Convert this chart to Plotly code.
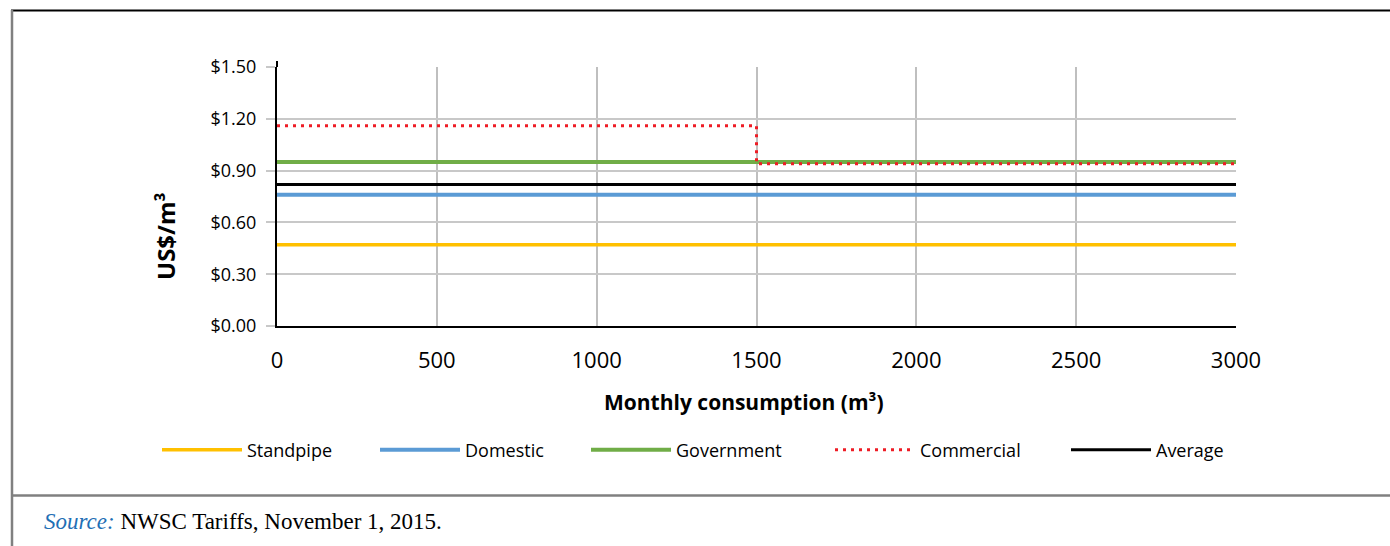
import plotly.graph_objects as go

# NWSC water tariffs by customer category (US$ per m3)
consumption_range = [0, 3000]
commercial_breaks = [0, 1500, 3000]

standpipe = [0.47, 0.47]
domestic = [0.76, 0.76]
government = [0.95, 0.95]
commercial = [1.16, 0.94, 0.94]
average = [0.82, 0.82]

series_names = ["Standpipe", "Domestic", "Government", "Commercial", "Average"]
y_ticks = [0.0, 0.3, 0.6, 0.9, 1.2, 1.5]
y_tick_text = ["$0.00", "$0.30", "$0.60", "$0.90", "$1.20", "$1.50"]
x_ticks = [0, 500, 1000, 1500, 2000, 2500, 3000]

W, H = 1390, 546
ML, MR, MT, MB = 277, 154, 67, 220
PW, PH = W - ML - MR, H - MT - MB


def fx(px):
    return (px - ML) / PW


def fy(py):
    return 1 - (py - MT) / PH


FONT = "Open Sans"

styles = [
    dict(color="#FFC000", width=3.5),
    dict(color="#5B9BD5", width=4),
    dict(color="#70AD47", width=4),
    dict(color="#EE1C25", width=3, dash="3px,5px", shape="hv"),
    dict(color="#000000", width=3),
]
xs = [consumption_range, consumption_range, consumption_range, commercial_breaks, consumption_range]
ys = [standpipe, domestic, government, commercial, average]
legend_ids = ["legend", "legend2", "legend3", "legend4", "legend5"]
legend_left_px = [157, 375, 586, 830, 1066]

fig = go.Figure()
for name, x, y, st, lg in zip(series_names, xs, ys, styles, legend_ids):
    fig.add_trace(go.Scatter(x=x, y=y, mode="lines", name=name, line=st, legend=lg))

legends = {}
for lg, left in zip(legend_ids, legend_left_px):
    legends[lg] = dict(
        orientation="h", x=fx(left), y=fy(450), xanchor="left", yanchor="middle",
        font=dict(family=FONT, size=18, color="#000000"),
        itemwidth=80, bgcolor="rgba(0,0,0,0)",
    )

# outer frame around the figure panel
frame = [
    dict(x0=fx(11), x1=fx(1392), y0=fy(10.5), y1=fy(10.5), color="#000000", width=2),
    dict(x0=fx(12), x1=fx(12), y0=fy(10), y1=fy(548), color="#808080", width=2.5),
    dict(x0=fx(12), x1=fx(1392), y0=fy(495.5), y1=fy(495.5), color="#808080", width=2.5),
    dict(x0=0, x1=0, y0=fy(61), y1=1, color="#000000", width=2),
]
shapes = [
    dict(type="line", xref="paper", yref="paper", x0=f["x0"], x1=f["x1"], y0=f["y0"], y1=f["y1"],
         line=dict(color=f["color"], width=f["width"]))
    for f in frame
]

fig.update_layout(
    width=W, height=H,
    margin=dict(l=ML, r=MR, t=MT, b=MB),
    paper_bgcolor="white", plot_bgcolor="white",
    font=dict(family=FONT, color="#000000"),
    showlegend=True,
    shapes=shapes,
    xaxis=dict(
        range=[0, 3000], tickvals=x_ticks, ticktext=[str(v) for v in x_ticks],
        showgrid=True, gridcolor="#BFBFBF", gridwidth=1.5,
        showline=True, linecolor="#000000", linewidth=2,
        ticks="", ticklabelstandoff=14,
        tickfont=dict(family=FONT, size=22, color="#000000"),
        zeroline=False,
    ),
    yaxis=dict(
        range=[0, 1.5], tickvals=y_ticks, ticktext=y_tick_text,
        showgrid=True, gridcolor="#C8C8C8", gridwidth=1.5,
        showline=True, linecolor="#000000", linewidth=2,
        ticks="outside", ticklen=9, tickcolor="#C8C8C8", tickwidth=1.5,
        ticklabelstandoff=6,
        tickfont=dict(family=FONT, size=18, color="#000000"),
        zeroline=False,
    ),
    annotations=[
        dict(xref="paper", yref="paper", x=fx(744), y=fy(402), xanchor="center", yanchor="middle",
             showarrow=False, text="<b>Monthly consumption (m³)</b>",
             font=dict(family=FONT, size=21, color="#000000")),
        dict(xref="paper", yref="paper", x=fx(165), y=fy(236), xanchor="center", yanchor="middle",
             showarrow=False, textangle=-90, text="<b>US$/m³</b>",
             font=dict(family=FONT, size=24, color="#000000")),
        dict(xref="paper", yref="paper", x=fx(42), y=fy(521), xanchor="left", yanchor="middle",
             showarrow=False,
             text="<i><span style='color:#1F6FB5'>Source:</span></i> NWSC Tariffs, November 1, 2015.",
             font=dict(family="Liberation Serif", size=23, color="#000000")),
    ],
    **legends,
)

fig.write_html("out.html")
